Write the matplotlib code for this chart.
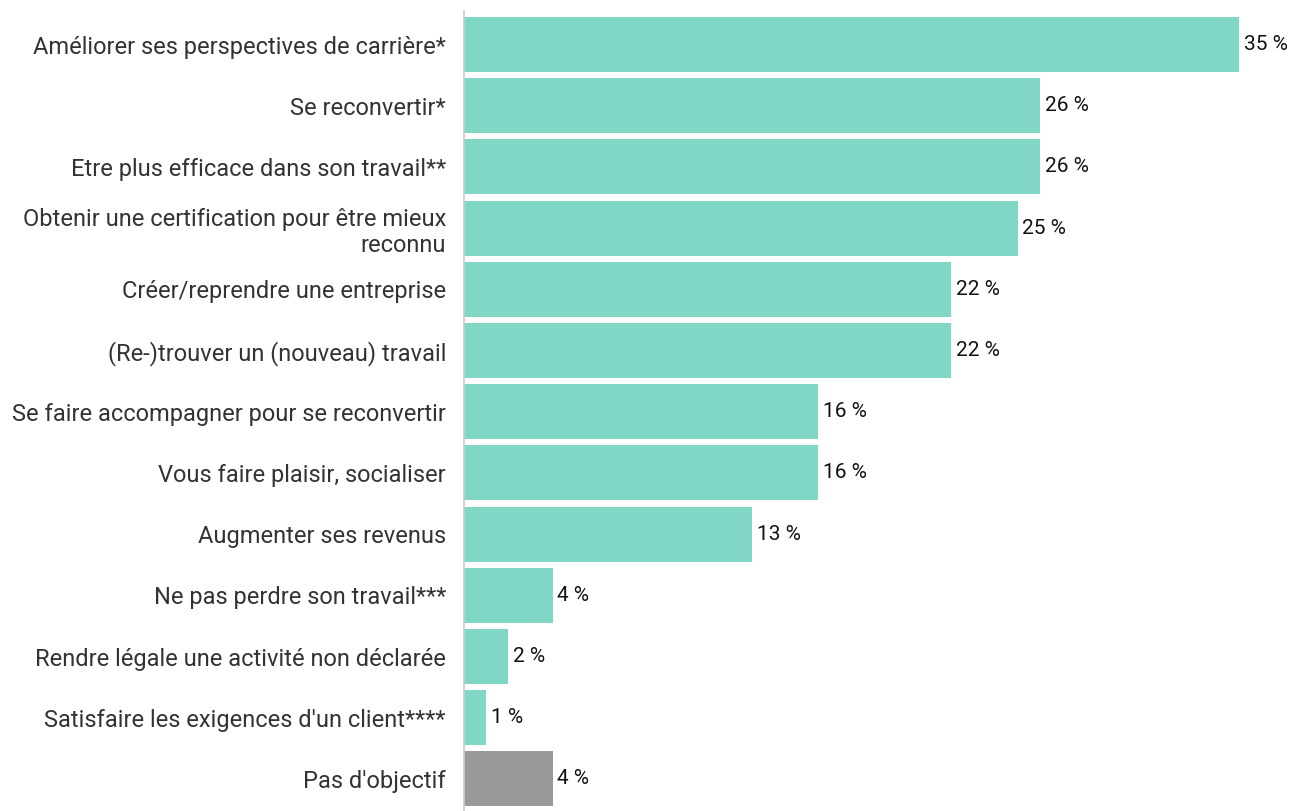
import matplotlib
matplotlib.use("Agg")
import matplotlib.pyplot as plt

categories = [
    "Améliorer ses perspectives de carrière*",
    "Se reconvertir*",
    "Etre plus efficace dans son travail**",
    "Obtenir une certification pour être mieux\nreconnu",
    "Créer/reprendre une entreprise",
    "(Re-)trouver un (nouveau) travail",
    "Se faire accompagner pour se reconvertir",
    "Vous faire plaisir, socialiser",
    "Augmenter ses revenus",
    "Ne pas perdre son travail***",
    "Rendre légale une activité non déclarée",
    "Satisfaire les exigences d'un client****",
    "Pas d'objectif",
]
values = [35, 26, 26, 25, 22, 22, 16, 16, 13, 4, 2, 1, 4]
colors = ["#80d7c6"] * 12 + ["#999999"]

plt.rcParams['font.family'] = ['Roboto', 'DejaVu Sans']

W, H = 1291, 811
fig = plt.figure(figsize=(W / 100, H / 100), dpi=100)
left_px, top_px, bottom_px = 464, 11, 811
ppu = 22.14
xmax = 37
ax = fig.add_axes([left_px / W, 1 - bottom_px / H, xmax * ppu / W, (bottom_px - top_px) / H])

ypos = list(range(len(categories)))
ax.barh(ypos, values, height=0.9, color=colors, edgecolor="none")
for y, v in zip(ypos, values):
    ax.text(v + 0.22, y, f"{v} %", va="center", ha="left", fontsize=15, color="#111111")

ax.set_xlim(0, xmax)
pitch = 61.2
c0 = 44.5
ax.set_ylim((bottom_px - c0) / pitch, (top_px - c0) / pitch)
ax.set_yticks(ypos)
ax.set_yticklabels(categories, fontsize=17, color="#333333", ha="right", multialignment="right")
ax.tick_params(axis="y", length=0, pad=13)
ax.set_xticks([])
for s in ["top", "right", "bottom"]:
    ax.spines[s].set_visible(False)
ax.spines["left"].set_color("#cccccc")
ax.spines["left"].set_linewidth(1.2)

fig.savefig("out.png", dpi=100)
